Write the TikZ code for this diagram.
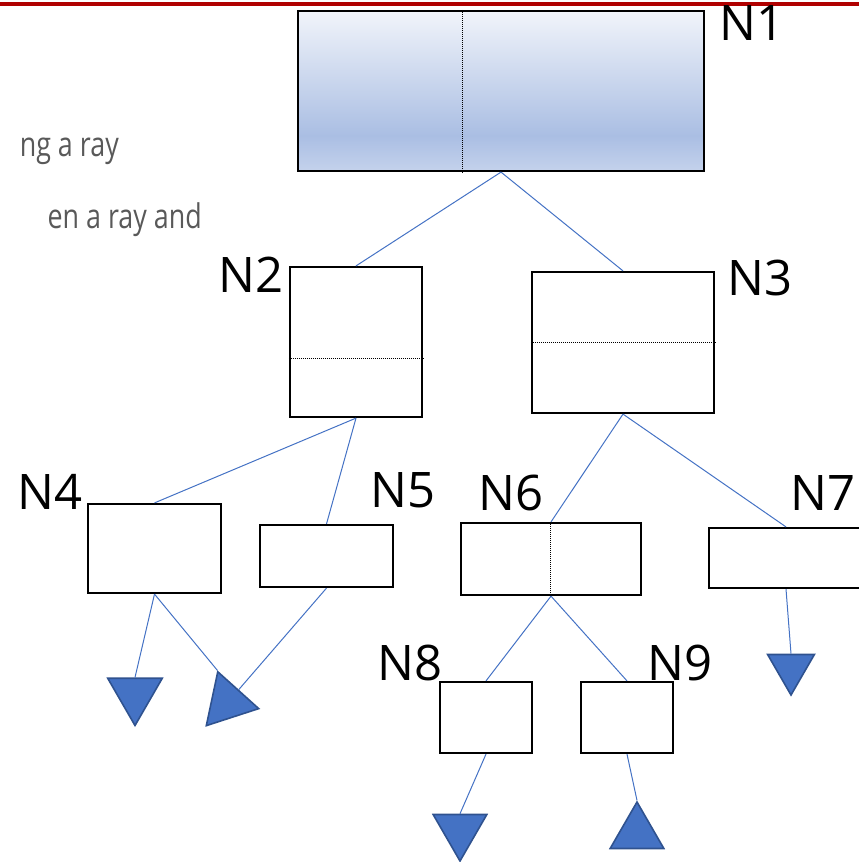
\documentclass[tikz,border=0pt]{standalone}
\usepackage{graphicx}
\usepackage{fontspec}
\setmainfont{Open Sans}
\usepackage{tikz}
\usetikzlibrary{shapes.geometric}

\definecolor{edgeblue}{HTML}{4472C4}
\definecolor{leafline}{HTML}{2F528F}
\definecolor{slidered}{HTML}{B00000}
\definecolor{bodygray}{HTML}{595959}
\definecolor{rootTop}{HTML}{F1F4FA}
\definecolor{rootMid}{HTML}{AABEE3}
\definecolor{rootBot}{HTML}{C4D2EC}
\pgfdeclareverticalshading{rootshade}{100bp}{color(0bp)=(rootBot); color(25bp)=(rootBot); color(36bp)=(rootMid); color(75bp)=(rootTop); color(100bp)=(rootTop)}

\begin{document}
\begin{tikzpicture}[x=1pt, y=-1pt,
    box/.style={draw, line width=2.2pt, rectangle, inner sep=0pt},
    split/.style={dash pattern=on 1pt off 1pt, line width=0.9pt},
    edge/.style={edgeblue, line width=1pt},
    leaf/.style={regular polygon, regular polygon sides=3, draw=leafline, fill=edgeblue, line width=1.6pt, inner sep=0pt},
    lbl/.style={font=\fontsize{49}{54}\selectfont, inner sep=0pt, anchor=base west},
    bodytext/.style={text=bodygray, font=\fontsize{34}{40}\selectfont, inner sep=0pt, anchor=base east}]
		\path[use as bounding box, clip] (0,0) rectangle (859,862);
		\draw[slidered, line width=4pt] (0,4) -- (859,4);
		% text of the slide
		\node[bodytext] (line1) at (119,156) {\scalebox{0.79}[1]{ng a ray}};
		\node[bodytext] (line2) at (202,228) {\scalebox{0.79}[1]{en a ray and}};
		% tree nodes
		\node[box, shade, shading=rootshade, minimum width=406, minimum height=160] (N1) at (501,91) {};
		\node[box, minimum width=132, minimum height=150] (N2) at (356,342) {};
		\node[box, minimum width=182, minimum height=141] (N3) at (623,342.5) {};
		\node[box, minimum width=133, minimum height=89] (N4) at (154.5,548.5) {};
		\node[box, minimum width=133, minimum height=62] (N5) at (326.5,556) {};
		\node[box, minimum width=180, minimum height=72] (N6) at (551,559) {};
		\node[box, minimum width=154, minimum height=60] (N7) at (786,558) {};
		\node[box, minimum width=92, minimum height=71] (N8) at (486,717.5) {};
		\node[box, minimum width=92, minimum height=71] (N9) at (627,717.5) {};
		\draw[split] ([xshift=-39pt]N1.north) -- ([xshift=-39pt]N1.south);
		\draw[split] ([yshift=-16pt]N2.west) -- ([yshift=-16pt]N2.east);
		\draw[split] (N3.west) -- (N3.east);
		\draw[split] ([xshift=-1pt]N6.north) -- ([xshift=-1pt]N6.south);
		% labels
		\node[lbl] (N1lbl) at (719,40) {N1};
		\node[lbl] (N2lbl) at (218,292) {N2};
		\node[lbl] (N3lbl) at (727,295) {N3};
		\node[lbl] (N4lbl) at (17,509) {N4};
		\node[lbl] (N5lbl) at (370,507) {N5};
		\node[lbl] (N6lbl) at (478,510) {N6};
		\node[lbl] (N7lbl) at (790,510) {N7};
		\node[lbl] (N8lbl) at (377,680) {N8};
		\node[lbl] (N9lbl) at (647,680) {N9};
		% leaves
		\node[leaf, shape border rotate=180, minimum size=63] (L4a) at (135,694) {};
		\node[leaf, shape border rotate=18, minimum size=63.6] (L4b) at (227.6,702) {};
		\node[leaf, shape border rotate=180, minimum size=54] (L7) at (791,668) {};
		\node[leaf, shape border rotate=180, minimum size=62] (L8) at (460,830) {};
		\node[leaf, minimum size=62] (L9) at (637,833) {};
		% connectors
		\draw[edge] (N1.south) -- (N2.north);
		\draw[edge] (N1.south) -- (N3.north);
		\draw[edge] (N2.south) -- (N4.north);
		\draw[edge] (N2.south) -- (N5.north);
		\draw[edge] (N3.south) -- (N6.north);
		\draw[edge] (N3.south) -- (N7.north);
		\draw[edge] (N4.south) -- (L4a.side 2);
		\draw[edge] (N4.south) -- (L4b.corner 1);
		\draw[edge] (N5.south) -- (L4b.side 3);
		\draw[edge] (N6.south) -- (N8.north);
		\draw[edge] (N6.south) -- (N9.north);
		\draw[edge] (N7.south) -- (L7.side 2);
		\draw[edge] (N8.south) -- (L8.side 2);
		\draw[edge] (N9.south) -- (L9.corner 1);
\end{tikzpicture}
\end{document}
